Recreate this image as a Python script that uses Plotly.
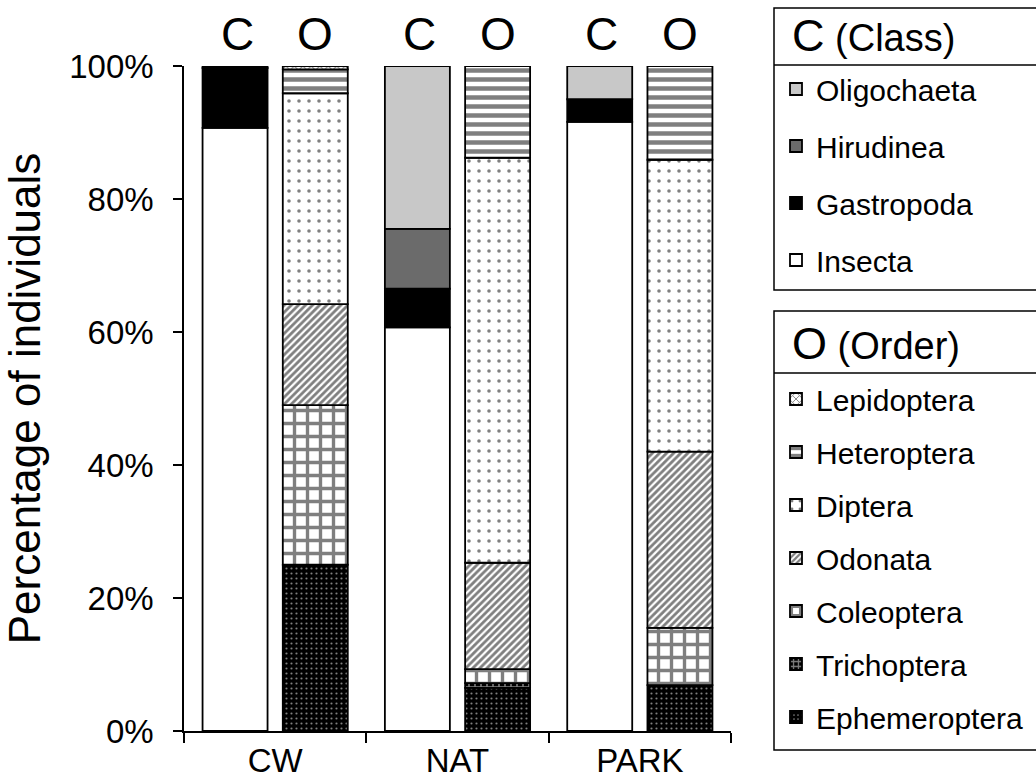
import plotly.graph_objects as go

# ---------------- data ----------------
sites = ["CW", "NAT", "PARK"]

# Class composition (%)
insecta = [90.7, 60.7, 91.6]
gastropoda = [9.0, 5.8, 3.4]
hirudinea = [0.3, 9.0, 0.0]
oligochaeta = [0.0, 24.5, 5.0]

# Order composition (%)
ephemeroptera = [25.0, 6.5, 6.9]
trichoptera = [0.0, 0.7, 0.0]
coleoptera = [24.0, 2.1, 8.6]
odonata = [15.2, 16.0, 26.5]
diptera = [31.7, 60.9, 43.9]
heteroptera = [3.6, 13.8, 14.1]
lepidoptera = [0.5, 0.0, 0.0]

y_ticks = [0, 20, 40, 60, 80, 100]
y_tick_labels = ["0%", "20%", "40%", "60%", "80%", "100%"]

FONT = "Liberation Sans, Arial, sans-serif"

# plot-area geometry in pixels (used to place layout items)
W, H = 1036, 782
L, R, T, B = 184, 731, 66, 731


def px(x):
    return (x - L) / (R - L)


def py(y):
    return (B - y) / (B - T)


fig = go.Figure()

line = dict(color="black", width=1.8)

class_series = [
    ("Insecta", insecta, "#ffffff"),
    ("Gastropoda", gastropoda, "#000000"),
    ("Hirudinea", hirudinea, "#6b6b6b"),
    ("Oligochaeta", oligochaeta, "#c8c8c8"),
]
n = len(class_series)
for i, (name, vals, col) in enumerate(class_series):
    fig.add_trace(go.Bar(
        x=sites, y=vals, name=name, offsetgroup="C", legendgroup=name,
        legend="legend", legendrank=100 + (n - i),
        marker=dict(color=col, line=line),
    ))

order_series = [
    ("Ephemeroptera", ephemeroptera, "#000000",
     dict(shape=".", fgcolor="#ffffff", size=5, solidity=0.15, fillmode="overlay")),
    ("Trichoptera", trichoptera, "#000000",
     dict(shape="+", fgcolor="#ffffff", size=6, solidity=0.45, fillmode="overlay")),
    ("Coleoptera", coleoptera, "#ffffff",
     dict(shape="+", fgcolor="#000000", size=13, solidity=0.45, fillmode="overlay")),
    ("Odonata", odonata, "#ffffff",
     dict(shape="/", fgcolor="#000000", size=5, solidity=0.55, fillmode="overlay")),
    ("Diptera", diptera, "#ffffff",
     dict(shape=".", fgcolor="#000000", size=10, solidity=0.1, fillmode="overlay")),
    ("Heteroptera", heteroptera, "#ffffff",
     dict(shape="-", fgcolor="#000000", size=9, solidity=0.5, fillmode="overlay")),
    ("Lepidoptera", lepidoptera, "#ffffff",
     dict(shape="x", fgcolor="#000000", size=6, solidity=0.35, fillmode="overlay")),
]
n = len(order_series)
for i, (name, vals, col, pat) in enumerate(order_series):
    fig.add_trace(go.Bar(
        x=sites, y=vals, name=name, offsetgroup="O", legendgroup=name,
        legend="legend2", legendrank=100 + (n - i),
        marker=dict(color=col, line=line, pattern=pat),
    ))

# C / O labels over the bars
annotations = []
for s in sites:
    for lab, shift in (("C", -38), ("O", 40)):
        annotations.append(dict(
            x=s, xref="x", y=py(34), yref="paper", xshift=shift,
            text=lab, showarrow=False, yanchor="middle",
            font=dict(family=FONT, size=46, color="black"),
        ))

# legend box titles
for txt, ypix in (("<span style='font-size:45px'>C</span> (Class)", 35),
                  ("<span style='font-size:45px'>O</span> (Order)", 343)):
    annotations.append(dict(
        x=px(790), xref="paper", y=py(ypix), yref="paper",
        xanchor="left", yanchor="middle", showarrow=False, text=txt,
        font=dict(family=FONT, size=38, color="black"),
    ))

# legend boxes
box_line = dict(color="black", width=1.5)
shapes = [
    dict(type="rect", xref="paper", yref="paper", x0=px(774), x1=px(1045),
         y0=py(290), y1=py(8), line=box_line),
    dict(type="line", xref="paper", yref="paper", x0=px(774), x1=px(1045),
         y0=py(65), y1=py(65), line=box_line),
    dict(type="rect", xref="paper", yref="paper", x0=px(774), x1=px(1045),
         y0=py(750), y1=py(311), line=box_line),
    dict(type="line", xref="paper", yref="paper", x0=px(774), x1=px(1045),
         y0=py(373), y1=py(373), line=box_line),
]

legend_common = dict(
    xanchor="left", yanchor="top", traceorder="grouped",
    bgcolor="rgba(0,0,0,0)", borderwidth=0,
    font=dict(family=FONT, size=30, color="black"), itemwidth=30,
)

fig.update_layout(
    width=W, height=H,
    margin=dict(l=L, r=W - R, t=T, b=H - B, autoexpand=False),
    paper_bgcolor="white", plot_bgcolor="white",
    barmode="relative", bargap=0.12, bargroupgap=0.19,
    font=dict(family=FONT, color="black"),
    showlegend=True,
    legend=dict(x=px(776), y=py(63), tracegroupgap=15, **legend_common),
    legend2=dict(x=px(776), y=py(373), tracegroupgap=11, **legend_common),
    xaxis=dict(
        type="category", categoryorder="array", categoryarray=sites,
        showline=True, linecolor="black", linewidth=1.5,
        ticks="outside", tickson="boundaries", ticklen=10, tickwidth=1.5,
        tickcolor="black", tickfont=dict(family=FONT, size=33),
        showgrid=False, zeroline=False,
    ),
    yaxis=dict(
        range=[0, 100], tickmode="array", tickvals=y_ticks,
        ticktext=y_tick_labels,
        showline=True, linecolor="black", linewidth=1.5,
        ticks="outside", ticklen=9, tickwidth=1.5, tickcolor="black",
        tickfont=dict(family=FONT, size=33), ticklabelstandoff=13,
        showgrid=False, zeroline=False, automargin=True,
        title=dict(text="Percentage of individuals",
                   font=dict(family=FONT, size=44), standoff=16),
    ),
    annotations=annotations,
    shapes=shapes,
)

fig.write_html("out.html", post_script="document.body.style.margin='0';",
               config={"displayModeBar": False})
